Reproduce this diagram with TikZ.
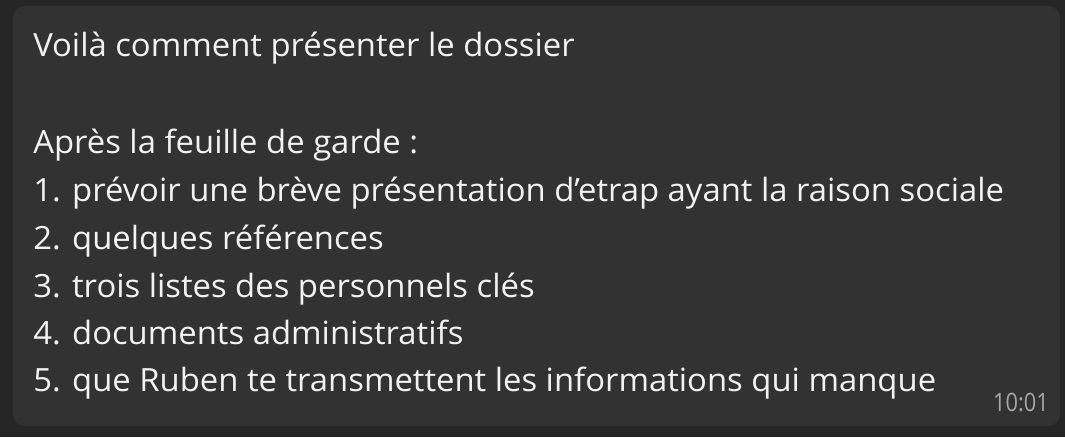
\documentclass[tikz,border=0pt]{standalone}
\usepackage{fontspec}
\setmainfont[FakeStretch=1.026]{Open Sans}
\newfontfamily\stampfont[FakeStretch=0.86]{Open Sans}
\definecolor{bgc}{HTML}{262626}
\definecolor{bubble}{HTML}{323232}
\definecolor{txt}{HTML}{F2F2F2}
\definecolor{timec}{HTML}{A6A6A6}
\begin{document}
\begin{tikzpicture}[x=0.75pt,y=-0.75pt,
  msg/.style={anchor=base west,inner sep=0pt,text=txt,font=\fontsize{24pt}{36pt}\selectfont},
  stamp/.style={anchor=base east,inner sep=0pt,text=timec,font=\stampfont\fontsize{19pt}{21pt}\selectfont}]
\fill[bgc] (0,0) rectangle (1065,437);
\useasboundingbox (0,0) rectangle (1065,437);
\fill[bubble,rounded corners=9pt] (13,6) rectangle (1060,426);
\node[msg] (l0) at (33,56) {Voilà comment présenter le dossier};
\node[msg] (l1) at (33,153) {Après la feuille de garde :};
\node[msg] (l2) at (33,201) {1. prévoir une brève présentation d’etrap ayant la raison sociale};
\node[msg] (l3) at (33,249) {2. quelques références};
\node[msg] (l4) at (33,297) {3. trois listes des personnels clés};
\node[msg] (l5) at (33,344) {4. documents administratifs};
\node[msg] (l6) at (33,391) {5. que Ruben te transmettent les informations qui manque};
\node[stamp] (ts) at (1049,411) {10:01};
\end{tikzpicture}
\end{document}
